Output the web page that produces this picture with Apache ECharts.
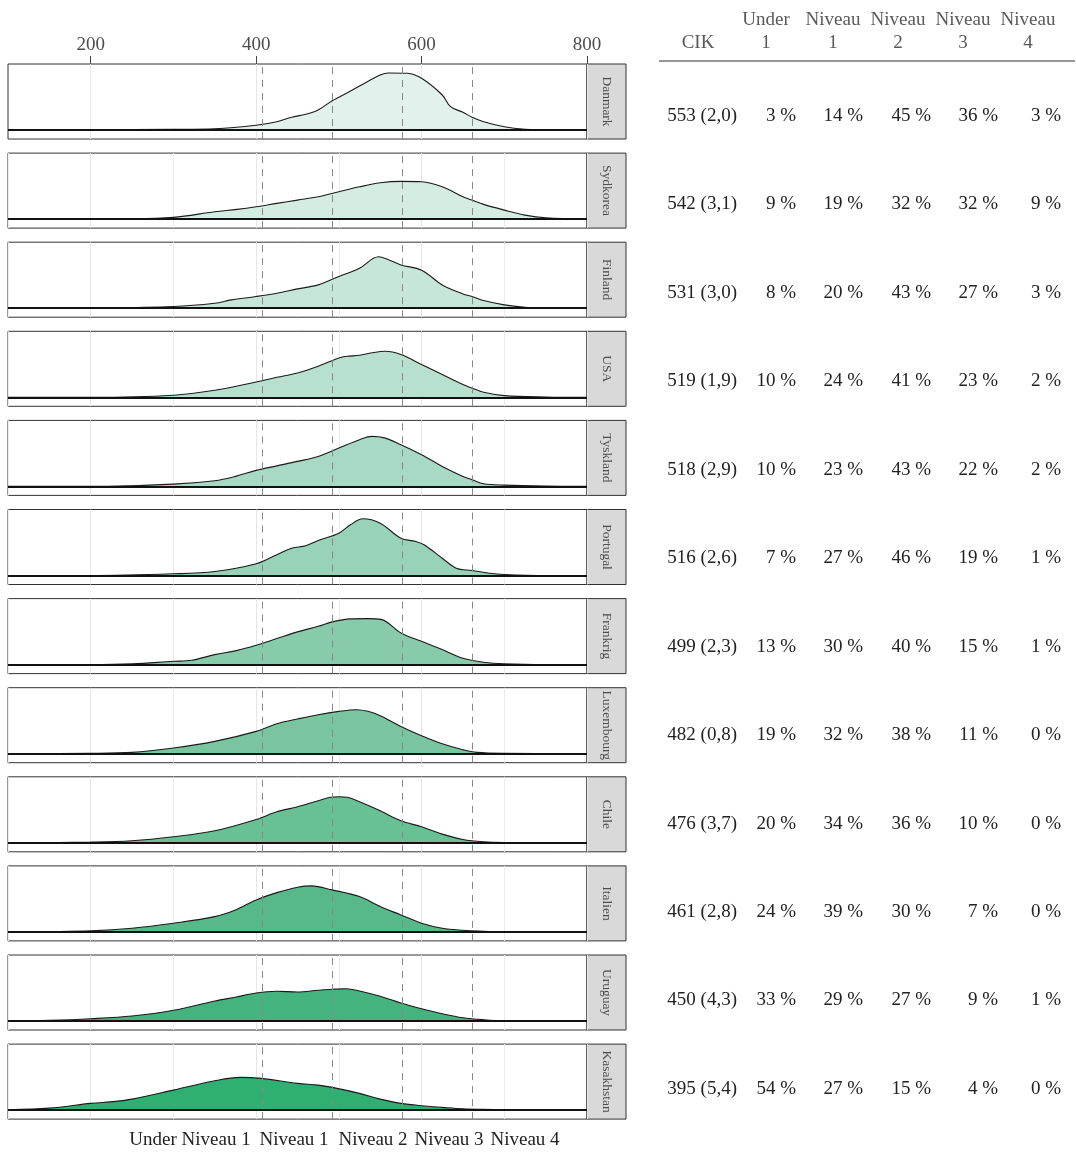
<!DOCTYPE html>
<html>
<head>
<meta charset="utf-8">
<script src="https://cdn.jsdelivr.net/npm/echarts@6/dist/echarts.min.js"></script>
<style>
  html, body { margin: 0; padding: 0; background: #fff; }
  #chart { width: 1076px; height: 1152px; }
</style>
</head>
<body>
<div id="chart"></div>
<script>
  // lande, sorteret efter CIK-gennemsnit
  var countries = ['Danmark', 'Sydkorea', 'Finland', 'USA', 'Tyskland', 'Portugal',
    'Frankrig', 'Luxembourg', 'Chile', 'Italien', 'Uruguay', 'Kasakhstan']
  var cik = ['553 (2,0)', '542 (3,1)', '531 (3,0)', '519 (1,9)', '518 (2,9)', '516 (2,6)',
    '499 (2,3)', '482 (0,8)', '476 (3,7)', '461 (2,8)', '450 (4,3)', '395 (5,4)']
  var levelHeads = [['Under', '1'], ['Niveau', '1'], ['Niveau', '2'], ['Niveau', '3'], ['Niveau', '4']]
  // procent pr. niveau (under 1, 1, 2, 3, 4)
  var levels = [
    [3, 14, 45, 36, 3],
    [9, 19, 32, 32, 9],
    [8, 20, 43, 27, 3],
    [10, 24, 41, 23, 2],
    [10, 23, 43, 22, 2],
    [7, 27, 46, 19, 1],
    [13, 30, 40, 15, 1],
    [19, 32, 38, 11, 0],
    [20, 34, 36, 10, 0],
    [24, 39, 30, 7, 0],
    [33, 29, 27, 9, 1],
    [54, 27, 15, 4, 0]
  ]
  var cutoffs = [407, 492, 577, 661]
  var xTicks = [200, 400, 600, 800]
  var bottomLabels = ['Under Niveau 1', 'Niveau 1', 'Niveau 2', 'Niveau 3', 'Niveau 4']
  var fills = ['#e2f1eb', '#d5ece3', '#c6e6d9', '#b8e0cf', '#a8d9c4', '#98d2b8',
    '#88cbab', '#78c59f', '#68c095', '#57b989', '#44b37e', '#2faf71']

  // tæthedskurver, [score, relativ tæthed]
  var densDanmark = [[100, 0], [200, 0.3], [300, 0.7], [350, 1.3], [400, 4.7], [425, 8.3], [443, 12.7], [460, 15.7],
    [475, 20], [492, 29.3], [500, 32.7], [525, 44], [550, 55], [560, 57], [583, 56.7], [600, 51.7], [625, 35],
    [635, 23.3], [650, 17.7], [661, 12.7], [675, 8.3], [700, 3.3], [725, 0.7], [750, 0], [800, 0]]
  var densSydkorea = [[100, 0], [250, 0.3], [300, 1.7], [350, 7.3], [377, 9.7], [400, 12.3], [425, 15.7], [450, 19],
    [475, 22.3], [500, 27.3], [525, 32.3], [550, 36.3], [575, 37.7], [600, 37.3], [625, 32.3], [650, 22.3],
    [661, 19], [675, 14.7], [700, 9], [725, 4], [750, 1.3], [800, 0]]
  var densFinland = [[100, 0], [200, 0.3], [300, 1.7], [350, 5], [370, 8.3], [400, 11.7], [425, 15], [450, 19.3],
    [475, 23.3], [500, 31.7], [525, 40], [548, 51.5], [560, 48.5], [575, 43.3], [600, 38], [625, 23.3],
    [650, 14.3], [661, 11.7], [675, 7.7], [700, 3.3], [725, 1], [750, 0.3], [800, 0]]
  var densUSA = [[100, 0], [200, 0], [300, 2], [350, 7], [400, 15.3], [425, 20], [450, 24.3], [475, 31], [500, 39.3],
    [510, 41], [525, 42], [540, 44.5], [556, 46], [575, 42.7], [600, 32.7], [625, 22.7], [650, 12.7], [661, 9.3],
    [675, 5], [700, 1.7], [750, 0.3], [800, 0]]
  var densTyskland = [[100, 0], [200, 0], [300, 2.3], [350, 5.7], [375, 10], [400, 16], [425, 20.5], [450, 25],
    [475, 30], [500, 38.3], [525, 46.7], [540, 50], [555, 48.5], [575, 41.7], [600, 31.7], [625, 20], [650, 10],
    [661, 6.7], [675, 2.7], [700, 1.3], [750, 0.3], [800, 0]]
  var densPortugal = [[100, 0], [200, 0], [300, 1.7], [350, 4], [400, 11.7], [425, 20.7], [443, 27.3], [460, 29.7],
    [475, 35], [500, 42.3], [514, 50.7], [529, 56.7], [550, 52.3], [575, 37.3], [593, 34], [603, 30.7],
    [625, 17.3], [642, 7.3], [661, 5], [682, 2.3], [700, 1], [750, 0], [800, 0]]
  var densFrankrig = [[100, 0], [200, 0], [250, 0.7], [300, 3.3], [322, 4.3], [350, 10], [376, 14], [400, 19.3],
    [425, 26], [450, 32.7], [475, 38.3], [492, 42.7], [514, 45.7], [535, 46], [551, 45.2], [575, 31.7], [600, 23.3],
    [625, 15], [650, 6.3], [675, 2.3], [700, 0.7], [750, 0], [800, 0]]
  var densLuxembourg = [[100, 0], [200, 0.3], [250, 1.3], [300, 5.7], [350, 12.3], [400, 22.3], [425, 30], [450, 34.7],
    [475, 39], [500, 42.3], [521, 44], [535, 42.5], [550, 38], [575, 27.3], [600, 18], [625, 10], [650, 4],
    [667, 1.3], [700, 0.3], [800, 0]]
  var densChile = [[100, 0], [200, 0.7], [250, 2], [300, 6], [350, 12], [400, 23.3], [425, 31], [450, 36], [475, 42],
    [490, 45.5], [500, 46], [510, 45.5], [525, 41], [550, 32], [575, 22], [600, 16], [625, 8.7], [650, 3.3],
    [675, 1], [700, 0.3], [800, 0]]
  var densItalien = [[100, 0], [150, 0.3], [200, 1], [250, 3.7], [300, 8.7], [350, 15.3], [375, 22], [400, 32],
    [425, 39.3], [450, 44.7], [467, 46], [492, 42], [525, 35.3], [550, 25.3], [575, 17], [600, 8.7], [625, 3.7],
    [650, 1.7], [675, 0.7], [700, 0], [800, 0]]
  var densUruguay = [[100, 0], [150, 0.7], [200, 2.3], [250, 5], [300, 10.7], [350, 20], [376, 24], [400, 28],
    [425, 29.7], [450, 29], [475, 30.7], [492, 31.7], [509, 32.3], [525, 30], [550, 24.7], [575, 18], [600, 12.3],
    [625, 7.3], [650, 3.3], [675, 1.3], [700, 0.3], [800, 0]]
  var densKasakhstan = [[100, 0.3], [150, 2], [200, 6.7], [230, 8.7], [250, 11], [300, 20], [350, 29.3], [381, 32.7],
    [406, 31.7], [450, 26.7], [475, 25], [492, 22.7], [525, 16.7], [550, 11], [575, 6.7], [600, 4.3], [625, 2.7],
    [650, 1.3], [675, 0.7], [700, 0.3], [750, 0], [800, 0]]
  var densities = [densDanmark, densSydkorea, densFinland, densUSA, densTyskland, densPortugal,
    densFrankrig, densLuxembourg, densChile, densItalien, densUruguay, densKasakhstan]

  var font = '"Liberation Serif", "DejaVu Serif", serif'
  var plotLeft = 8, plotWidth = 579, panelTop = 64, panelStep = 89.1, panelH = 75
  var stripW = 39

  var grids = [], xAxes = [], yAxes = [], series = [], graphics = []

  countries.forEach(function (name, i) {
    var top = panelTop + i * panelStep
    grids.push({
      left: plotLeft, top: top, width: plotWidth, height: panelH,
      show: true, borderColor: '#333', borderWidth: 1, backgroundColor: '#fff'
    })
    xAxes.push({
      type: 'value', gridIndex: i, min: 100, max: 800, interval: 100,
      position: 'top',
      axisLine: { show: false, onZero: false },
      axisTick: i === 0 ? { show: true, customValues: xTicks, length: 8, lineStyle: { color: '#444' } } : { show: false },
      axisLabel: i === 0 ? { show: true, customValues: xTicks, color: '#4d4d4d', fontFamily: font, fontSize: 19, margin: 9 } : { show: false },
      splitLine: { show: true, lineStyle: { color: ['#ebebeb', '#e6e6e6'], width: 1 } }
    })
    yAxes.push({
      type: 'value', gridIndex: i, min: -9, max: 66, show: false,
      splitLine: { show: false }
    })
    var marks = cutoffs.map(function (c) {
      return { xAxis: c, lineStyle: { color: '#888', type: [7, 6], width: 1 } }
    })
    marks.push({ yAxis: 0, lineStyle: { color: '#111', type: 'solid', width: 2 } })
    series.push({
      name: name, type: 'line', xAxisIndex: i, yAxisIndex: i,
      data: densities[i], smooth: 0.35, symbol: 'none',
      lineStyle: { color: '#1a1a1a', width: 1.1 },
      areaStyle: { color: fills[i], opacity: 1 },
      markLine: { silent: true, symbol: 'none', label: { show: false }, data: marks }
    })
    // facet-strip til højre
    graphics.push({
      type: 'rect', shape: { x: plotLeft + plotWidth, y: top, width: stripW, height: panelH },
      style: { fill: '#d9d9d9', stroke: '#333', lineWidth: 1 }
    })
    graphics.push({
      type: 'text', x: plotLeft + plotWidth + stripW / 2, y: top + panelH / 2, rotation: -Math.PI / 2,
      style: { text: name, fill: '#4d4d4d', font: '13.5px ' + font, align: 'center', verticalAlign: 'middle' }
    })
  })

  // tabel til højre
  var colRight = [737, 796, 863, 931, 998, 1061]
  var headCenter = [698, 766, 833, 898, 963, 1028]
  graphics.push({
    type: 'text', x: headCenter[0], y: 43,
    style: { text: 'CIK', fill: '#595959', font: '19px ' + font, align: 'center', verticalAlign: 'middle' }
  })
  levelHeads.forEach(function (h, k) {
    graphics.push({
      type: 'text', x: headCenter[k + 1], y: 20,
      style: { text: h[0], fill: '#595959', font: '19px ' + font, align: 'center', verticalAlign: 'middle' }
    })
    graphics.push({
      type: 'text', x: headCenter[k + 1], y: 43,
      style: { text: h[1], fill: '#595959', font: '19px ' + font, align: 'center', verticalAlign: 'middle' }
    })
  })
  graphics.push({
    type: 'line', shape: { x1: 659, y1: 61, x2: 1075, y2: 61 },
    style: { stroke: '#333', lineWidth: 1.2 }
  })
  countries.forEach(function (name, i) {
    var y = 116 + i * 88.45
    graphics.push({
      type: 'text', x: colRight[0], y: y,
      style: { text: cik[i], fill: '#222', font: '19px ' + font, align: 'right', verticalAlign: 'middle' }
    })
    levels[i].forEach(function (p, k) {
      graphics.push({
        type: 'text', x: colRight[k + 1], y: y,
        style: { text: p + ' %', fill: '#222', font: '19px ' + font, align: 'right', verticalAlign: 'middle' }
      })
    })
  })

  // niveau-tekst under panelerne
  var bottomX = [190, 294, 373, 449, 525]
  bottomLabels.forEach(function (t, k) {
    graphics.push({
      type: 'text', x: bottomX[k], y: 1140,
      style: { text: t, fill: '#222', font: '19px ' + font, align: 'center', verticalAlign: 'middle' }
    })
  })

  var chart = echarts.init(document.getElementById('chart'), null, { renderer: 'canvas' })
  chart.setOption({
    animation: false,
    backgroundColor: '#fff',
    grid: grids,
    xAxis: xAxes,
    yAxis: yAxes,
    series: series,
    graphic: graphics
  })
</script>
</body>
</html>
